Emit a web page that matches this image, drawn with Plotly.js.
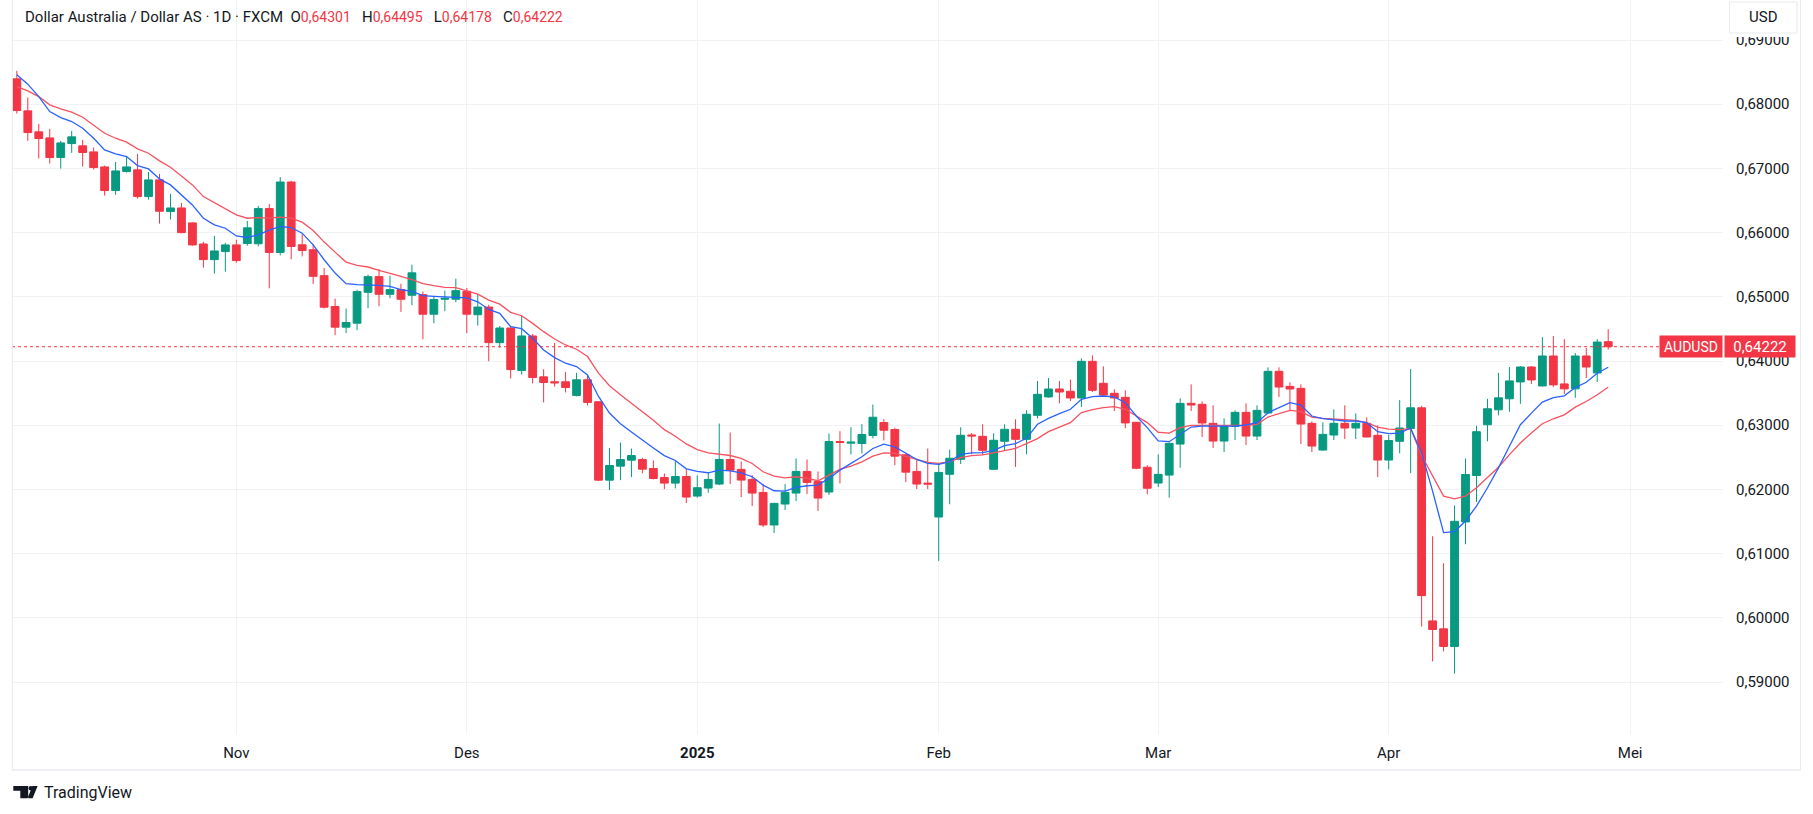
<!DOCTYPE html>
<html>
<head>
<meta charset="utf-8">
<script src="https://cdn.plot.ly/plotly-3.0.1.min.js"></script>
<style>
  html, body { margin: 0; padding: 0; background: #ffffff; }
  #chart { width: 1813px; height: 814px; }
</style>
</head>
<body>
<div id="chart"></div>
<script>
// ---------------- DATA ----------------
const symbolTitle = 'Dollar Australia / Dollar AS · 1D · FXCM';
const symbolCode = 'AUDUSD';
const currency = 'USD';
const firstDay = '2024-10-04';
const lastCalendarDay = '2025-05-01';
const holidays = ['2024-12-25', '2025-01-01'];
const monthKeys = ['2024-11', '2024-12', '2025-01', '2025-02', '2025-03', '2025-04', '2025-05'];
const monthLabels = ['Nov', 'Des', '<b>2025</b>', 'Feb', 'Mar', 'Apr', 'Mei'];

const opens = [
  0.68395, 0.67896, 0.67569, 0.67475, 0.67169, 0.67387, 0.67351, 0.67257, 0.67023, 0.66655,
  0.66951, 0.66977, 0.66561, 0.66821, 0.66327, 0.66384, 0.66151, 0.65823, 0.65579, 0.65704,
  0.65808, 0.65831, 0.65826, 0.66374, 0.65691, 0.66788, 0.65810, 0.65733, 0.65329, 0.64848,
  0.64527, 0.64589, 0.65070, 0.65314, 0.65039, 0.65112, 0.65024, 0.65034, 0.64729, 0.64962,
  0.64962, 0.65086, 0.64721, 0.64840, 0.64286, 0.64514, 0.63852, 0.64390, 0.63753, 0.63676,
  0.63676, 0.63464, 0.63707, 0.63365, 0.62144, 0.62362, 0.62455, 0.62465, 0.62325, 0.62186,
  0.62098, 0.62201, 0.61896, 0.62021, 0.62083, 0.62466, 0.62311, 0.62155, 0.61953, 0.61446,
  0.61772, 0.61943, 0.62280, 0.62124, 0.61959, 0.62746, 0.62720, 0.62715, 0.62840, 0.63041,
  0.62933, 0.62539, 0.62280, 0.62098, 0.61570, 0.62236, 0.62469, 0.62848, 0.62827, 0.62313,
  0.62750, 0.62936, 0.62780, 0.63154, 0.63440, 0.63564, 0.63528, 0.63424, 0.63995, 0.63652,
  0.63497, 0.63434, 0.63045, 0.62345, 0.62099, 0.62223, 0.62706, 0.63340, 0.63325, 0.63029,
  0.62753, 0.62980, 0.63200, 0.62831, 0.63190, 0.63839, 0.63605, 0.63574, 0.63029, 0.62613,
  0.62847, 0.63029, 0.62956, 0.63029, 0.62842, 0.62457, 0.62749, 0.62950, 0.63271, 0.59952,
  0.59828, 0.59554, 0.61493, 0.62216, 0.63007, 0.63240, 0.63411, 0.63674, 0.63907, 0.63612,
  0.64078, 0.63643, 0.63566, 0.64078, 0.63814, 0.64301
];
const highs = [
  0.68520, 0.68104, 0.67694, 0.67616, 0.67429, 0.67584, 0.67444, 0.67325, 0.67044, 0.67101,
  0.67195, 0.67226, 0.66945, 0.66914, 0.66603, 0.66462, 0.66160, 0.65855, 0.65948, 0.65839,
  0.65890, 0.66183, 0.66415, 0.66446, 0.66865, 0.66809, 0.65976, 0.65820, 0.65448, 0.64972,
  0.64817, 0.65112, 0.65345, 0.65432, 0.65329, 0.65205, 0.65500, 0.65081, 0.65003, 0.65096,
  0.65282, 0.65138, 0.65041, 0.64876, 0.64545, 0.64545, 0.64705, 0.64421, 0.63872, 0.64281,
  0.63831, 0.63815, 0.63769, 0.63375, 0.62646, 0.62729, 0.62636, 0.62491, 0.62450, 0.62248,
  0.62455, 0.62315, 0.62218, 0.62259, 0.63026, 0.62886, 0.62435, 0.62223, 0.62083, 0.61790,
  0.62083, 0.62482, 0.62466, 0.62280, 0.62870, 0.62907, 0.62969, 0.63016, 0.63321, 0.63093,
  0.62959, 0.62554, 0.62456, 0.62637, 0.62400, 0.62620, 0.62967, 0.62879, 0.63014, 0.62874,
  0.63014, 0.63092, 0.63232, 0.63689, 0.63735, 0.63689, 0.63710, 0.64042, 0.64088, 0.63917,
  0.63559, 0.63543, 0.63050, 0.62376, 0.62545, 0.62730, 0.63418, 0.63636, 0.63371, 0.63309,
  0.63106, 0.63231, 0.63340, 0.63309, 0.63901, 0.63901, 0.63668, 0.63636, 0.63060, 0.63044,
  0.63247, 0.63309, 0.63184, 0.63122, 0.62997, 0.62850, 0.63390, 0.63876, 0.63302, 0.61270,
  0.60851, 0.61751, 0.62480, 0.62992, 0.63411, 0.63814, 0.63907, 0.63922, 0.63922, 0.64372,
  0.64388, 0.64341, 0.64124, 0.64202, 0.64341, 0.64495
];
const lows = [
  0.67855, 0.67429, 0.67153, 0.67075, 0.66997, 0.67242, 0.67029, 0.66982, 0.66577, 0.66587,
  0.66935, 0.66530, 0.66514, 0.66140, 0.66203, 0.65990, 0.65797, 0.65455, 0.65361, 0.65392,
  0.65530, 0.65795, 0.65784, 0.65132, 0.65645, 0.65583, 0.65629, 0.65200, 0.64817, 0.64403,
  0.64434, 0.64481, 0.64822, 0.64853, 0.64977, 0.64765, 0.64869, 0.64341, 0.64589, 0.64776,
  0.64915, 0.64434, 0.64550, 0.63996, 0.64208, 0.63727, 0.63790, 0.63650, 0.63355, 0.63603,
  0.63510, 0.63448, 0.63308, 0.62130, 0.61989, 0.62144, 0.62191, 0.62251, 0.62155, 0.62005,
  0.62015, 0.61787, 0.61870, 0.61948, 0.62067, 0.62083, 0.61881, 0.61741, 0.61415, 0.61321,
  0.61679, 0.61819, 0.61927, 0.61663, 0.61912, 0.62093, 0.62544, 0.62560, 0.62793, 0.62762,
  0.62378, 0.62114, 0.62005, 0.62005, 0.60886, 0.61769, 0.62396, 0.62547, 0.62537, 0.62300,
  0.62599, 0.62350, 0.62547, 0.63107, 0.63429, 0.63341, 0.63377, 0.63284, 0.63517, 0.63440,
  0.63222, 0.62952, 0.62313, 0.61924, 0.62036, 0.61870, 0.62338, 0.63221, 0.62816, 0.62644,
  0.62582, 0.62769, 0.62691, 0.62769, 0.63180, 0.63439, 0.63221, 0.62706, 0.62582, 0.62600,
  0.62769, 0.62784, 0.62784, 0.62810, 0.62192, 0.62310, 0.62563, 0.62253, 0.59864, 0.59321,
  0.59476, 0.59130, 0.61146, 0.61803, 0.62749, 0.63152, 0.63209, 0.63333, 0.63643, 0.63600,
  0.63597, 0.63488, 0.63426, 0.63736, 0.63674, 0.64178
];
const closes = [
  0.67901, 0.67558, 0.67465, 0.67169, 0.67397, 0.67491, 0.67247, 0.67013, 0.66655, 0.66961,
  0.67023, 0.66561, 0.66821, 0.66332, 0.66384, 0.66000, 0.65808, 0.65579, 0.65714, 0.65808,
  0.65564, 0.66074, 0.66374, 0.65691, 0.66788, 0.65784, 0.65722, 0.65319, 0.64838, 0.64527,
  0.64600, 0.65081, 0.65314, 0.65039, 0.65112, 0.64962, 0.65373, 0.64729, 0.64957, 0.64977,
  0.65096, 0.64729, 0.64840, 0.64286, 0.64514, 0.63867, 0.64390, 0.63743, 0.63665, 0.63660,
  0.63588, 0.63707, 0.63355, 0.62144, 0.62372, 0.62465, 0.62527, 0.62315, 0.62170, 0.62098,
  0.62201, 0.61880, 0.62026, 0.62155, 0.62466, 0.62300, 0.62145, 0.61943, 0.61446, 0.61782,
  0.61953, 0.62280, 0.62109, 0.61865, 0.62746, 0.62731, 0.62736, 0.62855, 0.63124, 0.62922,
  0.62518, 0.62269, 0.62083, 0.62083, 0.62264, 0.62485, 0.62843, 0.62832, 0.62609, 0.62765,
  0.62936, 0.62780, 0.63170, 0.63481, 0.63564, 0.63517, 0.63424, 0.63995, 0.63543, 0.63470,
  0.63424, 0.63035, 0.62329, 0.62018, 0.62234, 0.62717, 0.63340, 0.63314, 0.63034, 0.62753,
  0.62982, 0.63200, 0.62831, 0.63231, 0.63839, 0.63595, 0.63564, 0.63018, 0.62675, 0.62857,
  0.63029, 0.62956, 0.63029, 0.62816, 0.62457, 0.62762, 0.62956, 0.63271, 0.60345, 0.59818,
  0.59554, 0.61503, 0.62232, 0.62899, 0.63256, 0.63426, 0.63690, 0.63907, 0.63705, 0.64078,
  0.63628, 0.63566, 0.64078, 0.63907, 0.64295, 0.64222
];
// fast moving average (blue) and slow moving average (red)
const maFast = [
  0.68457, 0.68312, 0.68119, 0.67886, 0.67792, 0.67730, 0.67626, 0.67470, 0.67288, 0.67226,
  0.67184, 0.67044, 0.66992, 0.66836, 0.66743, 0.66587, 0.66431, 0.66223, 0.66120, 0.66068,
  0.65948, 0.65924, 0.65965, 0.66038, 0.66095, 0.66079, 0.65991, 0.65810, 0.65577, 0.65370,
  0.65205, 0.65189, 0.65189, 0.65179, 0.65163, 0.65112, 0.65086, 0.65019, 0.65008, 0.65003,
  0.64998, 0.64982, 0.64922, 0.64803, 0.64741, 0.64534, 0.64503, 0.64353, 0.64172, 0.64053,
  0.63965, 0.63914, 0.63784, 0.63448, 0.63189, 0.63024, 0.62894, 0.62765, 0.62646, 0.62527,
  0.62450, 0.62320, 0.62280, 0.62259, 0.62300, 0.62290, 0.62259, 0.62197, 0.62067, 0.61979,
  0.61974, 0.62031, 0.62057, 0.62067, 0.62171, 0.62300, 0.62404, 0.62508, 0.62637, 0.62705,
  0.62663, 0.62560, 0.62466, 0.62404, 0.62389, 0.62433, 0.62547, 0.62568, 0.62573, 0.62609,
  0.62682, 0.62713, 0.62796, 0.63014, 0.63107, 0.63180, 0.63248, 0.63403, 0.63445, 0.63455,
  0.63440, 0.63351, 0.63144, 0.62962, 0.62755, 0.62743, 0.62857, 0.62971, 0.62987, 0.62987,
  0.62982, 0.62987, 0.63003, 0.63039, 0.63195, 0.63273, 0.63351, 0.63314, 0.63143, 0.63101,
  0.63081, 0.63065, 0.63065, 0.63039, 0.62899, 0.62868, 0.62878, 0.62956, 0.62568, 0.61973,
  0.61327, 0.61343, 0.61508, 0.61741, 0.62025, 0.62335, 0.62671, 0.63007, 0.63188, 0.63359,
  0.63431, 0.63457, 0.63586, 0.63669, 0.63809, 0.63902
];
const maSlow = [
  0.68275, 0.68208, 0.68119, 0.67990, 0.67927, 0.67875, 0.67797, 0.67678, 0.67548, 0.67470,
  0.67408, 0.67304, 0.67236, 0.67117, 0.67018, 0.66883, 0.66743, 0.66561, 0.66468, 0.66379,
  0.66275, 0.66224, 0.66234, 0.66224, 0.66240, 0.66224, 0.66162, 0.66033, 0.65852, 0.65696,
  0.65541, 0.65489, 0.65464, 0.65412, 0.65370, 0.65319, 0.65267, 0.65205, 0.65174, 0.65148,
  0.65143, 0.65096, 0.65041, 0.64948, 0.64886, 0.64757, 0.64705, 0.64586, 0.64457, 0.64343,
  0.64250, 0.64183, 0.64069, 0.63810, 0.63614, 0.63474, 0.63345, 0.63215, 0.63076, 0.62931,
  0.62827, 0.62708, 0.62620, 0.62570, 0.62549, 0.62528, 0.62482, 0.62404, 0.62275, 0.62207,
  0.62181, 0.62197, 0.62171, 0.62135, 0.62223, 0.62311, 0.62363, 0.62430, 0.62518, 0.62570,
  0.62560, 0.62518, 0.62466, 0.62420, 0.62404, 0.62433, 0.62495, 0.62526, 0.62537, 0.62568,
  0.62609, 0.62640, 0.62713, 0.62791, 0.62900, 0.62972, 0.63040, 0.63196, 0.63242, 0.63273,
  0.63289, 0.63248, 0.63144, 0.63040, 0.62890, 0.62878, 0.62961, 0.62997, 0.62997, 0.62997,
  0.62987, 0.62987, 0.62997, 0.63013, 0.63127, 0.63179, 0.63231, 0.63210, 0.63127, 0.63106,
  0.63091, 0.63086, 0.63075, 0.63039, 0.62971, 0.62940, 0.62930, 0.62945, 0.62527, 0.62206,
  0.61896, 0.61854, 0.61896, 0.62025, 0.62190, 0.62346, 0.62542, 0.62723, 0.62878, 0.63023,
  0.63100, 0.63162, 0.63281, 0.63369, 0.63473, 0.63592
];

// ---------------- trading-day calendar (weekdays minus holidays) ----------------
function tradingDays(start, end, skip) {
  const out = [];
  const d = new Date(start + 'T00:00:00Z');
  const e = new Date(end + 'T00:00:00Z');
  while (d <= e) {
    const wd = d.getUTCDay();
    const iso = d.toISOString().slice(0, 10);
    if (wd !== 0 && wd !== 6 && skip.indexOf(iso) < 0) out.push(iso);
    d.setUTCDate(d.getUTCDate() + 1);
  }
  return out;
}
const calendar = tradingDays(firstDay, lastCalendarDay, holidays);
const xs = opens.map((_, i) => i);               // bar slot of each trading day
const tickVals = monthKeys.map(m => calendar.findIndex(d => d.startsWith(m)));

// ---------------- styling helpers ----------------
const W = 1813, H = 814;
const M = { l: 12, r: 90, t: 0, b: 80 };
const PW = W - M.l - M.r, PH = H - M.t - M.b;
const px = x => (x - M.l) / PW;        // pixel -> paper x
const py = y => 1 - (y - M.t) / PH;    // pixel -> paper y
const fmt = v => v.toFixed(5).replace('.', ',');
const GREEN = '#089981', RED = '#F23645', TXT = '#131722', GRID = '#F0F2F5';
const FONT = 'Roboto, "Open Sans", sans-serif';

const n = closes.length;
const last = { o: opens[n - 1], h: highs[n - 1], l: lows[n - 1], c: closes[n - 1] };
const valColor = last.c >= last.o ? GREEN : RED;
const sp = t => '<span style="color:' + valColor + ';font-size:14px">' + t + '</span>';

const traces = [
  {
    type: 'candlestick',
    x: xs, open: opens, high: highs, low: lows, close: closes,
    increasing: { line: { color: GREEN, width: 1 }, fillcolor: GREEN },
    decreasing: { line: { color: RED, width: 1 }, fillcolor: RED },
    whiskerwidth: 0,
    hoverinfo: 'skip',
    showlegend: false
  },
  {
    type: 'scatter', mode: 'lines', x: xs, y: maSlow,
    line: { color: '#F7525F', width: 1.3 }, hoverinfo: 'skip', showlegend: false
  },
  {
    type: 'scatter', mode: 'lines', x: xs, y: maFast,
    line: { color: '#2962FF', width: 1.3 }, hoverinfo: 'skip', showlegend: false
  }
];

const logoPath =
  'M ' + px(13.3) + ' ' + py(786) + ' L ' + px(28.2) + ' ' + py(786) + ' L ' + px(28.2) + ' ' + py(798.3) +
  ' L ' + px(20.3) + ' ' + py(798.3) + ' L ' + px(20.3) + ' ' + py(790.8) + ' L ' + px(13.3) + ' ' + py(790.8) + ' Z' +
  ' M ' + px(32.4) + ' ' + py(786) + ' L ' + px(37.6) + ' ' + py(786) + ' L ' + px(32.6) + ' ' + py(798.3) +
  ' L ' + px(27.6) + ' ' + py(798.3) + ' Z';

const layout = {
  width: W, height: H,
  margin: M,
  paper_bgcolor: '#ffffff', plot_bgcolor: '#ffffff',
  separators: ',.',
  showlegend: false,
  hovermode: false,
  dragmode: false,
  boxgap: 0.29, boxgroupgap: 0,
  font: { family: FONT, size: 15, color: TXT },
  xaxis: {
    type: 'linear',
    range: [-0.44, 155.46],
    tickmode: 'array', tickvals: tickVals, ticktext: monthLabels,
    showgrid: true, gridcolor: GRID, gridwidth: 1,
    zeroline: false, showline: false,
    ticks: 'outside', ticklen: 5, tickcolor: 'rgba(0,0,0,0)',
    tickfont: { family: FONT, size: 15, color: TXT },
    rangeslider: { visible: false },
    fixedrange: true
  },
  yaxis: {
    side: 'right',
    range: [0.58190, 0.69623],
    tick0: 0.59, dtick: 0.01,
    tickformat: '.5f',
    showgrid: true, gridcolor: GRID, gridwidth: 1,
    zeroline: false, showline: false,
    ticks: 'outside', ticklen: 9, tickcolor: 'rgba(0,0,0,0)',
    tickfont: { family: FONT, size: 15, color: TXT },
    fixedrange: true
  },
  shapes: [
    // last price dotted line
    { type: 'line', xref: 'paper', yref: 'y', x0: 0, x1: px(1659), y0: last.c, y1: last.c,
      line: { color: RED, width: 1, dash: 'dot' }, layer: 'above' },
    // widget frame (left, right) and bottom band
    { type: 'path', xref: 'paper', yref: 'paper',
      path: 'M ' + px(12.3) + ' ' + py(0) + ' L ' + px(12.3) + ' ' + py(770) + ' M ' + px(1800.5) + ' ' + py(0) + ' L ' + px(1800.5) + ' ' + py(770),
      line: { color: '#E9ECF1', width: 1 }, layer: 'above' },
    { type: 'line', xref: 'paper', yref: 'paper', x0: px(12), x1: px(1801), y0: py(770), y1: py(770),
      line: { color: '#EEF0F3', width: 2.2 }, layer: 'above' },
    // white area under the currency button (hides the top of the first price label)
    { type: 'rect', xref: 'paper', yref: 'paper', x0: px(1726), x1: px(1799), y0: py(0), y1: py(37),
      fillcolor: '#ffffff', line: { width: 0 }, layer: 'above' },
    // currency button
    { type: 'rect', xref: 'paper', yref: 'paper', x0: px(1729.5), x1: px(1797), y0: py(2), y1: py(33),
      fillcolor: '#ffffff', line: { color: '#E6E9EE', width: 1 }, layer: 'above' },
    // TradingView logo mark
    { type: 'path', xref: 'paper', yref: 'paper', path: logoPath,
      fillcolor: TXT, line: { width: 0 }, layer: 'above' },
    { type: 'circle', xref: 'paper', yref: 'paper', x0: px(28.6), x1: px(33.0), y0: py(786), y1: py(790.6),
      fillcolor: TXT, line: { width: 0 }, layer: 'above' }
  ],
  annotations: [
    { xref: 'paper', yref: 'paper', x: px(23), y: py(17), xanchor: 'left', yanchor: 'middle',
      showarrow: false, font: { family: FONT, size: 15, color: TXT },
      text: symbolTitle + '  O' + sp(fmt(last.o)) + '   H' + sp(fmt(last.h)) + '   L' + sp(fmt(last.l)) + '   C' + sp(fmt(last.c)) },
    { xref: 'paper', yref: 'paper', x: px(1763), y: py(17.5), xanchor: 'center', yanchor: 'middle',
      showarrow: false, font: { family: FONT, size: 15, color: TXT }, text: currency },
    { xref: 'paper', yref: 'y', x: px(1691), y: last.c, xanchor: 'center', yanchor: 'middle',
      showarrow: false, bgcolor: RED, width: 60, height: 19, borderpad: 1,
      font: { family: FONT, size: 14, color: '#ffffff' }, text: symbolCode },
    { xref: 'paper', yref: 'y', x: px(1760), y: last.c, xanchor: 'center', yanchor: 'middle',
      showarrow: false, bgcolor: RED, width: 68, height: 19, borderpad: 1,
      font: { family: FONT, size: 15, color: '#ffffff' }, text: fmt(last.c) },
    { xref: 'paper', yref: 'paper', x: px(42), y: py(792.5), xanchor: 'left', yanchor: 'middle',
      showarrow: false, font: { family: FONT, size: 16, color: TXT }, text: 'TradingView' }
  ]
};

Plotly.newPlot('chart', traces, layout, { staticPlot: true, displayModeBar: false, responsive: false });
</script>
</body>
</html>
